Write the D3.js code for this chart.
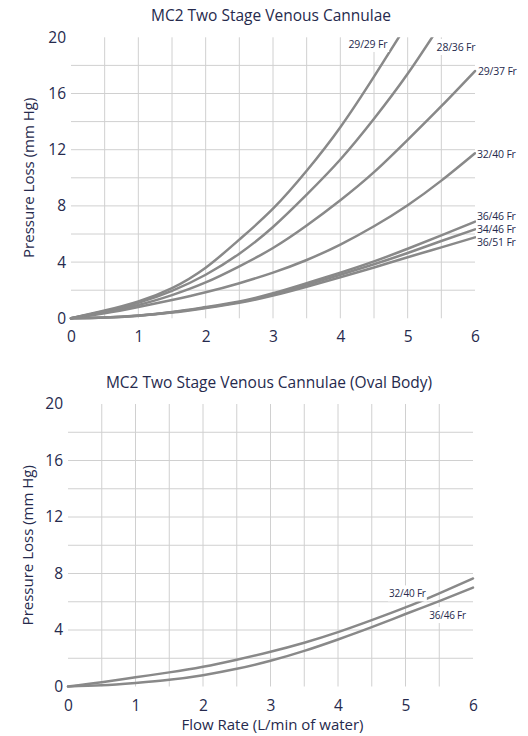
<!DOCTYPE html>
<html>
<head>
<meta charset="utf-8">
<script src="https://cdn.jsdelivr.net/npm/d3@7"></script>
<style>
  html, body { margin: 0; padding: 0; background: #ffffff; }
  svg { display: block; }
  text { font-family: "Open Sans", "Noto Sans", sans-serif; fill: #262a4d; }
</style>
</head>
<body>
<svg id="chart" width="528" height="736"></svg>
<script>
// ---------- DATA ----------
const flowRates = [0, 0.5, 1, 1.5, 2, 2.5, 3, 3.5, 4, 4.5, 5, 5.5, 6];
const xTicks = [0, 1, 2, 3, 4, 5, 6];
const yTicks = [0, 4, 8, 12, 16, 20];

// Chart 1: MC2 Two Stage Venous Cannulae (pressure loss, mm Hg)
const seriesNames1 = ["29/29 Fr", "28/36 Fr", "29/37 Fr", "32/40 Fr", "36/46 Fr", "34/46 Fr", "36/51 Fr"];
const v29_29 = [0, 0.55, 1.2, 2.15, 3.6, 5.6, 7.8, 10.5, 13.6, 17.2, 21.0];
const v28_36 = [0, 0.5, 1.1, 1.95, 3.1, 4.6, 6.5, 8.8, 11.3, 14.2, 17.4, 21.0];
const v29_37 = [0, 0.45, 0.95, 1.65, 2.55, 3.7, 5.0, 6.6, 8.4, 10.4, 12.7, 15.1, 17.6];
const v32_40 = [0, 0.35, 0.8, 1.3, 1.85, 2.5, 3.25, 4.15, 5.25, 6.55, 8.05, 9.8, 11.75];
const v36_46 = [0, 0.05, 0.2, 0.45, 0.8, 1.2, 1.78, 2.5, 3.25, 4.05, 4.95, 5.9, 6.88];
const v34_46 = [0, 0.05, 0.19, 0.43, 0.76, 1.15, 1.7, 2.38, 3.1, 3.85, 4.65, 5.5, 6.33];
const v36_51 = [0, 0.05, 0.18, 0.41, 0.73, 1.1, 1.62, 2.25, 2.92, 3.62, 4.35, 5.05, 5.76];
const values1 = [v29_29, v28_36, v29_37, v32_40, v36_46, v34_46, v36_51];

// Chart 2: MC2 Two Stage Venous Cannulae (Oval Body)
const seriesNames2 = ["32/40 Fr", "36/46 Fr"];
const oval32_40 = [0, 0.3, 0.65, 1.0, 1.4, 1.9, 2.46, 3.1, 3.85, 4.7, 5.6, 6.6, 7.65];
const oval36_46 = [0, 0.08, 0.25, 0.47, 0.8, 1.25, 1.82, 2.52, 3.33, 4.2, 5.13, 6.05, 7.0];
const values2 = [oval32_40, oval36_46];

// ---------- DRAWING ----------
const svg = d3.select("#chart");
const TEXT = "#262a4d";
const GRID = "#d0d0d0";
const LINE = "#898989";

function drawChart(cfg) {
  const g = svg.append("g");
  const x = d3.scaleLinear().domain([0, 6]).range([cfg.x0, cfg.x1]);
  const y = d3.scaleLinear().domain([0, 20]).range([cfg.y0, cfg.y1]);

  // title
  g.append("text")
    .attr("x", cfg.titleX).attr("y", cfg.titleY)
    .attr("text-anchor", "middle")
    .style("font-size", "15.5px")
    .text(cfg.title);

  // gridlines
  const vGrid = d3.range(0.5, 6, 0.5);
  g.append("g").selectAll("line").data(vGrid).join("line")
    .attr("x1", d => x(d)).attr("x2", d => x(d))
    .attr("y1", y(20)).attr("y2", y(0))
    .attr("stroke", GRID).attr("stroke-width", 1);
  const hGrid = d3.range(2, 20, 2);
  g.append("g").selectAll("line").data(hGrid).join("line")
    .attr("x1", x(0)).attr("x2", x(6))
    .attr("y1", d => y(d)).attr("y2", d => y(d))
    .attr("stroke", GRID).attr("stroke-width", 1);

  // axes (labels only)
  const yAxis = g.append("g")
    .attr("transform", `translate(${x(0) - 5},0)`)
    .call(d3.axisLeft(y).tickValues(yTicks).tickSize(0).tickPadding(0).tickFormat(d3.format("d")));
  yAxis.select(".domain").remove();
  yAxis.selectAll("text").style("font-size", "15.5px").attr("fill", TEXT)
    .style("font-family", '"Open Sans", sans-serif');

  const xAxis = g.append("g")
    .attr("transform", `translate(0,${y(0) + 13})`)
    .call(d3.axisBottom(x).tickValues(xTicks).tickSize(0).tickPadding(0).tickFormat(d3.format("d")));
  xAxis.select(".domain").remove();
  xAxis.selectAll("text").style("font-size", "15.5px").attr("fill", TEXT)
    .style("font-family", '"Open Sans", sans-serif');

  // y axis title
  g.append("text")
    .attr("transform", `translate(${cfg.yTitleX},${(y(0) + y(20)) / 2}) rotate(-90)`)
    .attr("text-anchor", "middle")
    .attr("dy", "0.35em")
    .style("font-size", "15px")
    .text("Pressure Loss (mm Hg)");

  if (cfg.xTitle) {
    g.append("text")
      .attr("x", (x(0) + x(6)) / 2 + 2).attr("y", y(0) + 43)
      .attr("text-anchor", "middle")
      .style("font-size", "15px")
      .text(cfg.xTitle);
  }

  // label background boxes (cover gridlines)
  const labelG = g.append("g");
  cfg.labels.forEach(l => {
    const t = labelG.append("text")
      .attr("x", l.x).attr("y", l.y)
      .attr("text-anchor", l.anchor || "start")
      .attr("dy", "0.35em")
      .style("font-size", l.size + "px")
      .style("letter-spacing", "-0.2px")
      .text(l.text);
    const bb = t.node().getBBox();
    labelG.insert("rect", "text")
      .attr("x", bb.x - 1).attr("y", bb.y - 1)
      .attr("width", bb.width + 2).attr("height", bb.height + 2)
      .attr("fill", "#ffffff");
  });

  // clip
  const clipId = "clip" + cfg.id;
  svg.append("defs").append("clipPath").attr("id", clipId)
    .append("rect")
    .attr("x", x(0) - 5).attr("y", y(20))
    .attr("width", x(6) - x(0) + 10).attr("height", y(0) - y(20) + 5);

  const line = d3.line()
    .x(d => x(d[0])).y(d => y(d[1]))
    .curve(d3.curveNatural);

  g.append("g").attr("clip-path", `url(#${clipId})`)
    .selectAll("path").data(cfg.values).join("path")
    .attr("d", vals => line(vals.map((v, i) => [flowRates[i], v])))
    .attr("fill", "none")
    .attr("stroke", LINE)
    .attr("stroke-width", 2.5)
    .attr("stroke-linecap", "round");

  labelG.raise();
  return { x, y };
}

// Chart 1 label placement
const x1 = d3.scaleLinear().domain([0, 6]).range([71, 475]);
const y1 = d3.scaleLinear().domain([0, 20]).range([318.3, 37.3]);
const labels1 = [
  { text: seriesNames1[0], x: x1(4.86) - 11, y: y1(20) + 7, anchor: "end", size: 10.5 },
  { text: seriesNames1[1], x: x1(5.37) + 4, y: y1(20) + 10, size: 10.5 },
  { text: seriesNames1[2], x: x1(6) + 3, y: y1(v29_37[12]), size: 10.5 },
  { text: seriesNames1[3], x: x1(6) + 2, y: y1(v32_40[12]) + 1, size: 10.5 },
  { text: seriesNames1[4], x: x1(6) + 2, y: y1(v36_46[12]) - 5, size: 10.5 },
  { text: seriesNames1[5], x: x1(6) + 2, y: y1(v34_46[12]), size: 10.5 },
  { text: seriesNames1[6], x: x1(6) + 2, y: y1(v36_51[12]) + 5, size: 10.5 }
];

drawChart({
  id: 1, title: "MC2 Two Stage Venous Cannulae", titleX: 271, titleY: 21,
  x0: 71, x1: 475, y0: 318.3, y1: 37.3, yTitleX: 29,
  values: values1, labels: labels1
});

const x2 = d3.scaleLinear().domain([0, 6]).range([68, 473]);
const y2 = d3.scaleLinear().domain([0, 20]).range([686.5, 404]);
const labels2 = [
  { text: seriesNames2[0], x: x2(5.3), y: y2(oval32_40[10]) - 13.5, anchor: "end", size: 10 },
  { text: seriesNames2[1], x: x2(5.35), y: y2(oval36_46[10]) + 1.5, anchor: "start", size: 10 }
];

drawChart({
  id: 2, title: "MC2 Two Stage Venous Cannulae (Oval Body)", titleX: 269, titleY: 388,
  x0: 68, x1: 473, y0: 686.5, y1: 404, yTitleX: 28,
  values: values2, labels: labels2, xTitle: "Flow Rate (L/min of water)"
});
</script>
</body>
</html>
